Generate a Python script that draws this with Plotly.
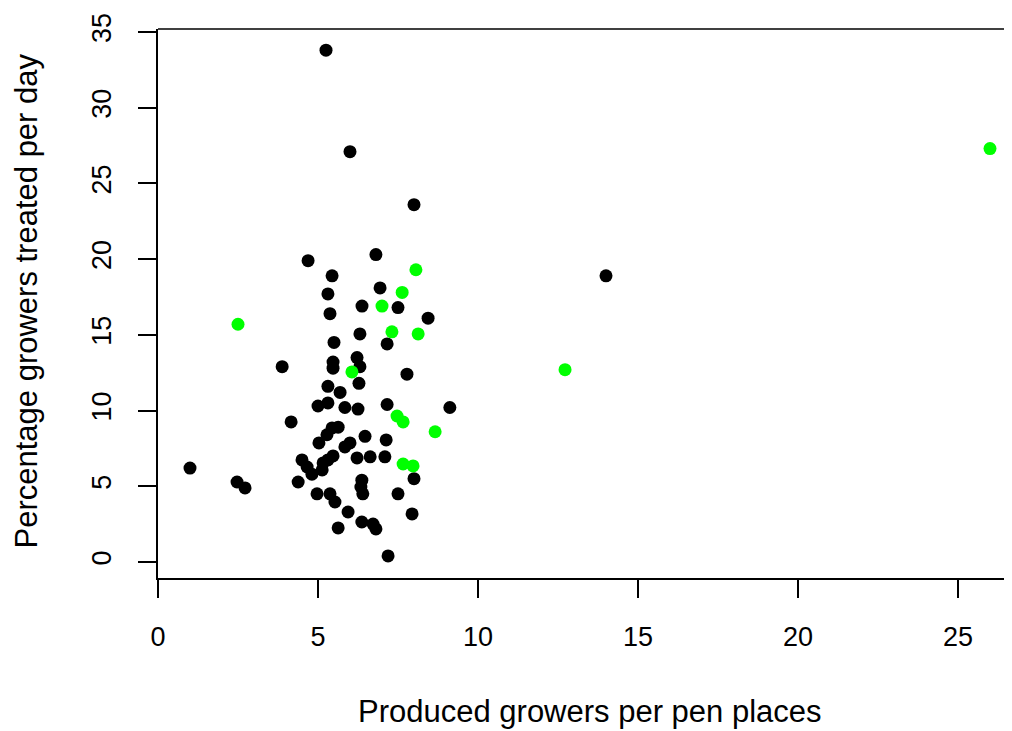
import plotly.graph_objects as go

# Black points (other farms)
black_x = [5.25, 6.0, 8.0, 14.0, 1.0, 2.47, 2.72,
           3.88, 4.16, 4.69, 6.81, 6.94, 7.5, 8.44, 9.12, 7.19, 7.94, 7.5, 8.0, 7.78,
           5.44, 5.31, 5.375, 6.375, 5.5, 6.31, 7.16, 5.47, 5.47, 6.22, 6.31, 6.28,
           5.31, 5.69, 5.0, 5.31, 5.84, 6.25, 7.16,
           5.44, 5.63, 5.28, 5.03, 6.0, 5.84, 6.47, 7.13,
           4.5, 4.66, 4.81, 4.38, 5.16, 5.31, 5.47, 5.13,
           4.97, 5.375, 5.53, 5.94, 5.63, 6.37, 6.72, 6.81,
           6.37, 6.34, 6.4, 6.22, 6.63, 7.09]
black_y = [33.8, 27.1, 23.6, 18.9, 6.2, 5.28, 4.89,
           12.9, 9.25, 19.9, 20.3, 18.1, 16.8, 16.1, 10.2, 0.4, 3.17, 4.5, 5.5, 12.4,
           18.9, 17.7, 16.4, 16.9, 14.5, 15.06, 14.4, 13.2, 12.8, 13.5, 12.9, 11.8,
           11.6, 11.2, 10.3, 10.5, 10.2, 10.1, 10.4,
           8.85, 8.9, 8.4, 7.86, 7.86, 7.6, 8.3, 8.06,
           6.74, 6.27, 5.8, 5.28, 6.54, 6.74, 7.0, 6.08,
           4.5, 4.5, 3.96, 3.3, 2.25, 2.64, 2.5, 2.18,
           5.4, 4.95, 4.5, 6.87, 6.94, 6.94]

# Green points (highlighted farms)
green_x = [2.5, 26.0, 12.72, 8.06, 7.63, 7.0, 7.31, 8.13, 6.06, 7.47, 7.66, 8.66, 7.66, 7.97]
green_y = [15.7, 27.3, 12.7, 19.3, 17.8, 16.9, 15.2, 15.06, 12.55, 9.64, 9.25, 8.6, 6.47, 6.34]

x_ticks = [0, 5, 10, 15, 20, 25]
y_ticks = [0, 5, 10, 15, 20, 25, 30, 35]

x_title = "Produced growers per pen places"
y_title = "Percentage growers treated per day"

FONT = "Liberation Sans, Arial, sans-serif"

fig = go.Figure()
fig.add_trace(go.Scatter(x=black_x, y=black_y, mode="markers",
                         marker=dict(color="#000000", size=13, line=dict(width=0)),
                         showlegend=False))
fig.add_trace(go.Scatter(x=green_x, y=green_y, mode="markers",
                         marker=dict(color="#00FF00", size=13, line=dict(width=0)),
                         showlegend=False))

# page body has an 8px margin: figure occupies 8..1012 x 8..731
fig.update_layout(
    width=1004, height=723,
    margin=dict(l=150, r=0, t=21, b=153),
    plot_bgcolor="white", paper_bgcolor="white",
    font=dict(family=FONT, color="#000000", size=27),
    xaxis=dict(range=[0, 854 / 32], tickvals=x_ticks, ticks="outside", ticklen=18,
               tickwidth=1.5, tickcolor="#000000", showline=True, linecolor="#000000",
               linewidth=1.5, showgrid=False, zeroline=False,
               tickfont=dict(size=27), ticklabelstandoff=16),
    yaxis=dict(range=[-1.06, 35.2], tickvals=y_ticks, ticks="outside", ticklen=18,
               tickwidth=1.5, tickcolor="#000000", showline=True, linecolor="#000000",
               linewidth=1.5, showgrid=False, zeroline=False, tickangle=-90,
               tickfont=dict(size=27), ticklabelstandoff=16),
    shapes=[dict(type="line", xref="paper", yref="paper", x0=0, x1=1, y0=1, y1=1,
                 line=dict(color="#000000", width=1.5))],
    annotations=[
        dict(text=x_title, xref="x", yref="paper", x=13.5, y=0, yanchor="middle",
             yshift=-133, showarrow=False, font=dict(size=31, family=FONT)),
        dict(text=y_title, xref="paper", yref="y", x=0, y=17.2, xanchor="center",
             xshift=-131, textangle=-90, showarrow=False, font=dict(size=31, family=FONT)),
    ],
)

fig.write_html("out.html")
